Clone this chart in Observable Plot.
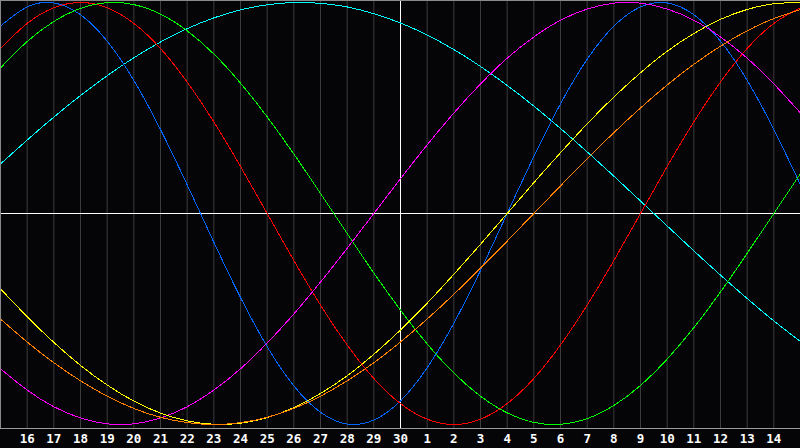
<!DOCTYPE html>
<html><head><meta charset="utf-8">
<script src="https://cdn.jsdelivr.net/npm/d3@7"></script>
<script src="https://cdn.jsdelivr.net/npm/@observablehq/plot@0.6"></script>
<style>html,body{margin:0;padding:0;background:#050508;} #chart svg{display:block}</style>
</head><body><div id="chart"></div>
<script>
// Day labels for index 0..30 (index 15 = today, "30")
const days = [15,16,17,18,19,20,21,22,23,24,25,26,27,28,29,30,1,2,3,4,5,6,7,8,9,10,11,12,13,14,15];
const tickIdx = [1,2,3,4,5,6,7,8,9,10,11,12,13,14,15,16,17,18,19,20,21,22,23,24,25,26,27,28,29];
const gridIdx = tickIdx.filter(i => i !== 15);
const todayIdx = [15];

// Series values (one per day index 0..30)
const physical = [0.888,0.979,0.998,0.942,0.817,0.631,0.398,0.136,-0.136,-0.398,-0.631,-0.817,-0.942,-0.998,-0.979,-0.888,-0.731,-0.520,-0.270,0,0.270,0.520,0.731,0.888,0.979,0.998,0.942,0.817,0.631,0.398,0.136];
const emotional = [0.782,0.901,0.975,1,0.975,0.901,0.782,0.623,0.434,0.223,0,-0.223,-0.434,-0.623,-0.782,-0.901,-0.975,-1,-0.975,-0.901,-0.782,-0.623,-0.434,-0.223,0,0.223,0.434,0.623,0.782,0.901,0.975];
const intellectual = [0.690,0.815,0.910,0.972,0.999,0.990,0.945,0.866,0.756,0.618,0.458,0.282,0.095,-0.095,-0.282,-0.458,-0.618,-0.756,-0.866,-0.945,-0.990,-0.999,-0.972,-0.910,-0.815,-0.690,-0.541,-0.372,-0.189,0,0.189];
const intuitive = [-0.736,-0.837,-0.916,-0.969,-0.997,-0.997,-0.969,-0.916,-0.837,-0.736,-0.614,-0.476,-0.325,-0.165,0,0.165,0.325,0.476,0.614,0.736,0.837,0.916,0.969,0.997,0.997,0.969,0.916,0.837,0.736,0.614,0.476];
const aesthetic = [-0.357,-0.489,-0.611,-0.720,-0.813,-0.889,-0.946,-0.983,-0.999,-0.994,-0.967,-0.920,-0.853,-0.769,-0.667,-0.552,-0.425,-0.288,-0.146,0,0.146,0.288,0.425,0.552,0.667,0.769,0.853,0.920,0.967,0.994,0.999];
const awareness = [-0.500,-0.609,-0.707,-0.793,-0.866,-0.924,-0.966,-0.991,-1,-0.991,-0.966,-0.924,-0.866,-0.793,-0.707,-0.609,-0.500,-0.383,-0.259,-0.131,0,0.131,0.259,0.383,0.500,0.609,0.707,0.793,0.866,0.924,0.966];
const spiritual = [0.235,0.348,0.457,0.559,0.653,0.738,0.813,0.876,0.927,0.965,0.989,1.000,0.996,0.979,0.947,0.903,0.846,0.777,0.697,0.607,0.509,0.403,0.292,0.177,0.059,-0.059,-0.177,-0.292,-0.403,-0.509,-0.607];

const seriesNames = ["Spiritual","Physical","Emotional","Intellectual","Intuitive","Aesthetic","Awareness"];
const seriesColors = ["#00ffff","#0066ff","#ff0000","#00ff00","#ff00ff","#ffff00","#ff8000"];
const seriesValues = [spiritual, physical, emotional, intellectual, intuitive, aesthetic, awareness];

const rows = seriesValues.flatMap((vals, s) => vals.map((v, i) => ({i, v, name: seriesNames[s]})));

const chart = Plot.plot({
  width: 800, height: 448,
  marginLeft: 0, marginRight: 0, marginTop: 0, marginBottom: 20,
  style: {background: "#050508", color: "#ffffff"},
  x: {domain: [0, 30], axis: null, label: null},
  y: {domain: [-1, 1], insetTop: 2, insetBottom: 4, axis: null, label: null},
  color: {domain: seriesNames, range: seriesColors},
  marks: [
    Plot.ruleX(gridIdx, {stroke: "#3c3c3c", strokeWidth: 1}),
    Plot.ruleX(todayIdx, {stroke: "#ffffff", strokeWidth: 1}),
    Plot.ruleY([0], {stroke: "#ffffff", strokeWidth: 1}),
    Plot.line(rows, {x: "i", y: "v", z: "name", stroke: "name", curve: "natural", strokeWidth: 1, shapeRendering: "crispEdges"}),
    Plot.frame({anchor: "top", stroke: "#8a8a8a"}),
    Plot.frame({anchor: "left", stroke: "#8a8a8a"}),
    Plot.frame({anchor: "bottom", stroke: "#9a9a9a"}),
    Plot.axisX(tickIdx, {anchor: "bottom", label: null, tickSize: 0, tickPadding: 6, tickFormat: i => days[i], fontWeight: "bold", fontSize: 12.5, fontFamily: "DejaVu Sans Mono", fill: "#ffffff"})
  ]
});
document.getElementById("chart").appendChild(chart);
</script>
</body></html>
